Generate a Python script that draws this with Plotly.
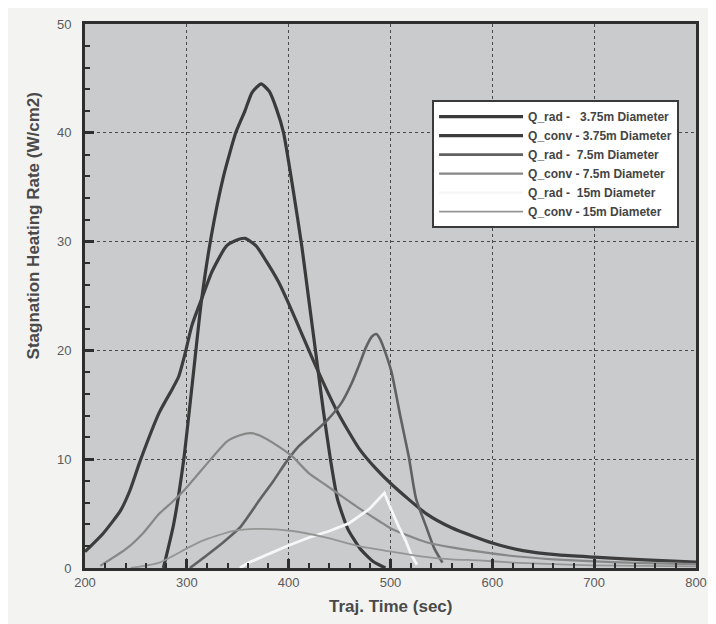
import plotly.graph_objects as go

# ---- data ----
t_rad_375 = [277, 287, 297, 306, 314, 324, 336, 348, 357, 364, 373, 381, 388, 395, 404, 413, 420, 427, 434, 441, 448, 458, 470, 483, 495]
q_rad_375 = [0, 4, 10, 17.5, 24.3, 30.5, 36, 40, 42, 43.7, 44.5, 43.8, 42.2, 40, 35, 29.5, 24.5, 19.5, 14.5, 10, 6.3, 3.6, 1.8, 0.6, 0]

t_conv_375 = [200, 218, 235, 244, 254, 273, 286, 292, 298, 305, 314, 325, 339, 348, 357, 368, 378, 390, 400, 413, 425, 447, 469, 485, 501, 535, 560, 600, 630, 665, 700, 750, 800]
q_conv_375 = [1.5, 3.2, 5.3, 7.1, 9.8, 14.3, 16.5, 17.6, 19.6, 22.3, 24.6, 27.3, 29.6, 30.1, 30.3, 29.6, 28.2, 26.3, 24.3, 21.5, 18.9, 14.5, 11, 9.2, 7.7, 5, 3.7, 2.3, 1.6, 1.2, 1.0, 0.75, 0.55]

t_rad_75 = [303, 320, 335, 352, 371, 385, 398, 410, 423, 437, 452, 462, 469, 476, 482, 486, 490, 495, 501, 510, 518, 525, 535, 543, 551]
q_rad_75 = [0, 1.2, 2.3, 3.7, 6.2, 8, 9.8, 11.2, 12.3, 13.5, 15.2, 17, 18.6, 20.3, 21.3, 21.5, 21, 19.8, 18, 13.8, 10.2, 6.4, 3.8, 1.8, 0.5]

t_conv_75 = [215, 241, 257, 273, 285, 296, 308, 319, 339, 352, 363, 371, 388, 403, 420, 437, 452, 469, 489, 501, 528, 538, 560, 587, 620, 660, 700, 750, 800]
q_conv_75 = [0.2, 1.8, 3.2, 5, 6.0, 7.0, 8.3, 9.5, 11.6, 12.2, 12.4, 12.2, 11.3, 10.3, 8.7, 7.6, 6.6, 5.5, 4.3, 3.6, 2.6, 2.3, 1.9, 1.5, 1.1, 0.8, 0.6, 0.45, 0.35]

t_rad_15 = [352, 361, 398, 420, 440, 459, 479, 487, 494, 501, 508, 515, 520, 526]
q_rad_15 = [0, 0.5, 2.0, 2.8, 3.4, 4.1, 5.4, 6.2, 6.9, 5.3, 3.8, 2.5, 1.3, 0.3]

t_conv_15 = [245, 273, 300, 315, 345, 371, 404, 437, 469, 501, 528, 560, 587, 620, 660, 700, 750, 800]
q_conv_15 = [0, 0.5, 1.8, 2.5, 3.4, 3.6, 3.4, 2.8, 2.0, 1.5, 1.1, 0.8, 0.7, 0.5, 0.35, 0.25, 0.2, 0.15]

x_ticks = [200, 300, 400, 500, 600, 700, 800]
y_ticks = [0, 10, 20, 30, 40, 50]

NB = "\u00a0"
series = [
    ("Q_rad -" + NB * 3 + "3.75m Diameter", t_rad_375, q_rad_375, "#3a3a3a", 3.2, "spline", 0.5),
    ("Q_conv - 3.75m Diameter", t_conv_375, q_conv_375, "#3d3d3d", 3.2, "spline", 0.6),
    ("Q_rad -" + NB * 2 + "7.5m Diameter", t_rad_75, q_rad_75, "#616161", 2.6, "spline", 0.6),
    ("Q_conv - 7.5m Diameter", t_conv_75, q_conv_75, "#878787", 2.2, "spline", 0.6),
    ("Q_rad -" + NB * 2 + "15m Diameter", t_rad_15, q_rad_15, "#f7f7f7", 2.8, "linear", None),
    ("Q_conv - 15m Diameter", t_conv_15, q_conv_15, "#959595", 1.8, "spline", 0.6),
]

fig = go.Figure()
for name, t, q, col, w, shp, sm in series:
    fig.add_trace(go.Scatter(
        x=t, y=q, mode="lines", name=name,
        line=dict(color=col, width=w, shape=shp, smoothing=sm),
    ))

axis_common = dict(
    showline=True, linecolor="#2e2e2e", linewidth=3, mirror=True,
    showgrid=True, gridcolor="#4a4a4a", gridwidth=1.2, griddash="dot",
    ticks="inside", ticklen=9, tickwidth=3, tickcolor="#2e2e2e",
    zeroline=False,
    tickfont=dict(family="Liberation Sans, Arial, sans-serif", size=13, color="#5a5a5a"),
)

fig.update_xaxes(
    range=[200, 800], tickvals=x_ticks, ticktext=[str(v) for v in x_ticks],
    minor=dict(ticks="inside", ticklen=5, tickwidth=1.5, tickcolor="#2e2e2e", dtick=20, showgrid=False),
    **axis_common,
)
fig.update_yaxes(
    range=[0, 50], tickvals=y_ticks, ticktext=[str(v) for v in y_ticks],
    minor=dict(ticks="inside", ticklen=5, tickwidth=1.5, tickcolor="#2e2e2e", dtick=2, showgrid=False),
    ticklabelstandoff=8,
    **axis_common,
)

# page body has an 8px default margin, so the figure is 8px smaller and margins shifted
fig.update_layout(
    width=708, height=616,
    margin=dict(l=77, r=18, t=9, b=56),
    paper_bgcolor="#f3f3f1", plot_bgcolor="#c9cbcc",
    showlegend=True,
    legend=dict(
        x=0.568, y=0.86, xanchor="left", yanchor="top",
        bgcolor="#ffffff", bordercolor="#3a3a3a", borderwidth=2,
        itemwidth=84, tracegroupgap=0,
        font=dict(family="Liberation Sans, Arial, sans-serif", size=12, color="#444444", weight="bold"),
    ),
    annotations=[
        dict(text="<b>Stagnation Heating Rate (W/cm2)</b>", textangle=-90,
             xref="paper", yref="paper", x=-0.085, y=0.628, xanchor="center", yanchor="middle",
             showarrow=False, font=dict(family="Liberation Sans, Arial, sans-serif", size=17, color="#4a4a4a")),
        dict(text="<b>Traj. Time (sec)</b>",
             xref="paper", yref="paper", x=0.5, y=-0.071, xanchor="center", yanchor="middle",
             showarrow=False, font=dict(family="Liberation Sans, Arial, sans-serif", size=17, color="#4a4a4a")),
    ],
)

fig.write_html("out.html")
